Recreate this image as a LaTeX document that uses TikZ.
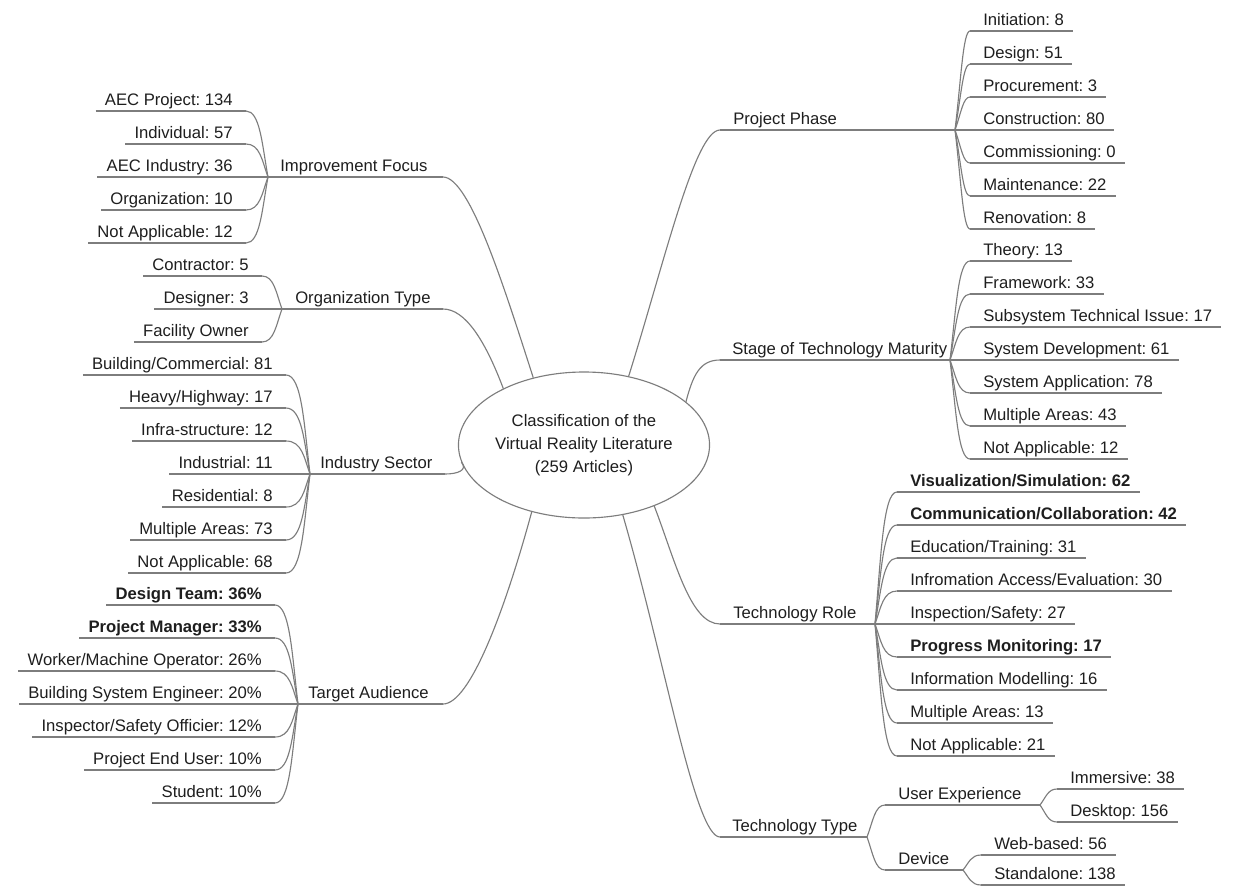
\documentclass[tikz,border=0pt]{standalone}
\usepackage{fontspec}
\setmainfont{Liberation Sans}
\usetikzlibrary{shapes.geometric,calc}
\definecolor{linegray}{RGB}{125,125,125}
\definecolor{txtcol}{RGB}{30,30,30}
\tikzset{
  ln/.style={draw=linegray, line width=0.85pt},
  txt/.style={font=\fontsize{12.5}{15}\selectfont, text=txtcol, inner sep=0pt, text depth=0pt},
  ritem/.style={txt, anchor=base west},
  litem/.style={txt, anchor=base east},
  bf/.style={font=\fontsize{12.5}{15}\selectfont\bfseries},
  centre/.style={ellipse, draw=linegray, line width=0.85pt, minimum width=222*0.75pt,
    minimum height=146*0.75pt, inner sep=0pt, align=center, text=txtcol,
    font=\fontsize{12.5}{17.25}\selectfont},
}
% right-side item: [style] name, text-x, underline-y, text
\newcommand\RItem[5][]{%
  \node[ritem,#1] (#2) at (#3,#4-6) {#5};
  \coordinate (#2-in) at ($(#2.base west)+(-13,6)$);
  \coordinate (#2-out) at ($(#2.base east)+(9,6)$);
  \draw[ln] (#2-in) -- (#2-out);}
% left-side item: [style] name, text-right-x, underline-y, text
\newcommand\LItem[5][]{%
  \node[litem,#1] (#2) at (#3,#4-6) {#5};
  \coordinate (#2-in) at ($(#2.base east)+(13,6)$);
  \coordinate (#2-out) at ($(#2.base west)+(-9,6)$);
  \draw[ln] (#2-out) -- (#2-in);}
\newcommand\Rcon[2]{\draw[ln] let \p1=(#1), \p2=(#2) in
  (\p1) .. controls ({\x1+4.5pt},{(\y1+\y2)/2}) and ({\x1+6pt},\y2) .. (\p2);}
\newcommand\Lcon[2]{\draw[ln] let \p1=(#1), \p2=(#2) in
  (\p1) .. controls ({\x1-4.5pt},{(\y1+\y2)/2}) and ({\x1-6pt},\y2) .. (\p2);}
\frenchspacing
\begin{document}
\frenchspacing
\begin{tikzpicture}[x=0.75pt,y=-0.75pt]
\useasboundingbox (0,0) rectangle (1254,886);

\node[centre] (c) at (584,445) {Classification of the\\Virtual Reality Literature\\(259 Articles)};

%%%%% RIGHT: Project Phase
\node[ritem] (pp) at (733,130-6) {Project Phase};
\coordinate (pp-in) at (720,130);
\coordinate (ppj) at (955,130);
\draw[ln] (pp-in) -- (ppj);
\RItem{pp1}{983}{31}{Initiation: 8}
\RItem{pp2}{983}{64}{Design: 51}
\RItem{pp3}{983}{97}{Procurement: 3}
\RItem{pp4}{983}{130}{Construction: 80}
\RItem{pp5}{983}{163}{Commissioning: 0}
\RItem{pp6}{983}{196}{Maintenance: 22}
\RItem{pp7}{983}{229}{Renovation: 8}
\foreach \i in {1,...,7}{\Rcon{ppj}{pp\i-in}}

%%%%% RIGHT: Stage of Technology Maturity
\node[ritem] (st) at (732,360-6) {Stage of Technology Maturity};
\coordinate (st-in) at (720,360);
\coordinate (stj) at (950,360);
\draw[ln] (st-in) -- (stj);
\RItem{st1}{983}{261}{Theory: 13}
\RItem{st2}{983}{294}{Framework: 33}
\RItem{st3}{983}{327}{Subsystem Technical Issue: 17}
\RItem{st4}{983}{360}{System Development: 61}
\RItem{st5}{983}{393}{System Application: 78}
\RItem{st6}{983}{426}{Multiple Areas: 43}
\RItem{st7}{983}{459}{Not Applicable: 12}
\foreach \i in {1,...,7}{\Rcon{stj}{st\i-in}}

%%%%% RIGHT: Technology Role
\node[ritem] (tr) at (733,624-6) {Technology Role};
\coordinate (tr-in) at (720,624);
\coordinate (trj) at (875,624);
\draw[ln] (tr-in) -- (trj);
\RItem[bf]{tr1}{910}{492}{Visualization/Simulation: 62}
\RItem[bf]{tr2}{910}{525}{Communication/Collaboration: 42}
\RItem{tr3}{910}{558}{Education/Training: 31}
\RItem{tr4}{910}{591}{Infromation Access/Evaluation: 30}
\RItem{tr5}{910}{624}{Inspection/Safety: 27}
\RItem[bf]{tr6}{910}{657}{Progress Monitoring: 17}
\RItem{tr7}{910}{690}{Information Modelling: 16}
\RItem{tr8}{910}{723}{Multiple Areas: 13}
\RItem{tr9}{910}{756}{Not Applicable: 21}
\foreach \i in {1,...,9}{\Rcon{trj}{tr\i-in}}

%%%%% RIGHT: Technology Type
\node[ritem] (tt) at (732,837-6) {Technology Type};
\coordinate (tt-in) at (720,837);
\coordinate (ttj) at (867,837);
\draw[ln] (tt-in) -- (ttj);
\node[ritem] (ue) at (898,805-6) {User Experience};
\coordinate (ue-in) at (885,805);
\coordinate (uej) at (1040,805);
\draw[ln] (ue-in) -- (uej);
\node[ritem] (dv) at (898,870-6) {Device};
\coordinate (dv-in) at (885,870);
\coordinate (dvj) at (963,870);
\draw[ln] (dv-in) -- (dvj);
\Rcon{ttj}{ue-in}
\Rcon{ttj}{dv-in}
\RItem{ue1}{1070}{789}{Immersive: 38}
\RItem{ue2}{1070}{822}{Desktop: 156}
\Rcon{uej}{ue1-in}
\Rcon{uej}{ue2-in}
\RItem{dv1}{994}{855}{Web-based: 56}
\RItem{dv2}{994}{885}{Standalone: 138}
\Rcon{dvj}{dv1-in}
\Rcon{dvj}{dv2-in}

%%%%% LEFT: Improvement Focus
\node[ritem] (if) at (280,177-6) {Improvement Focus};
\coordinate (ifj) at (268,177);
\coordinate (if-out) at (443,177);
\draw[ln] (ifj) -- (if-out);
\LItem{if1}{233}{111}{AEC Project: 134}
\LItem{if2}{233}{144}{Individual: 57}
\LItem{if3}{233}{177}{AEC Industry: 36}
\LItem{if4}{233}{210}{Organization: 10}
\LItem{if5}{233}{243}{Not Applicable: 12}
\foreach \i in {1,...,5}{\Lcon{ifj}{if\i-in}}

%%%%% LEFT: Organization Type
\node[ritem] (ot) at (295,309-6) {Organization Type};
\coordinate (otj) at (282,309);
\coordinate (ot-out) at (443,309);
\draw[ln] (otj) -- (ot-out);
\LItem{ot1}{249}{276}{Contractor: 5}
\LItem{ot2}{249}{309}{Designer: 3}
\LItem{ot3}{249}{342}{Facility Owner}
\foreach \i in {1,...,3}{\Lcon{otj}{ot\i-in}}

%%%%% LEFT: Industry Sector
\node[ritem] (is) at (320,474-6) {Industry Sector};
\coordinate (isj) at (310,474);
\coordinate (is-out) at (445,474);
\draw[ln] (isj) -- (is-out);
\LItem{is1}{273}{375}{Building/Commercial: 81}
\LItem{is2}{273}{408}{Heavy/Highway: 17}
\LItem{is3}{273}{441}{Infra-structure: 12}
\LItem{is4}{273}{474}{Industrial: 11}
\LItem{is5}{273}{507}{Residential: 8}
\LItem{is6}{273}{540}{Multiple Areas: 73}
\LItem{is7}{273}{573}{Not Applicable: 68}
\foreach \i in {1,...,7}{\Lcon{isj}{is\i-in}}

%%%%% LEFT: Target Audience
\node[ritem] (ta) at (308,704-6) {Target Audience};
\coordinate (taj) at (298,704);
\coordinate (ta-out) at (443,704);
\draw[ln] (taj) -- (ta-out);
\LItem[bf]{ta1}{262}{605}{Design Team: 36\%}
\LItem[bf]{ta2}{262}{638}{Project Manager: 33\%}
\LItem{ta3}{262}{671}{Worker/Machine Operator: 26\%}
\LItem{ta4}{262}{704}{Building System Engineer: 20\%}
\LItem{ta5}{262}{737}{Inspector/Safety Officier: 12\%}
\LItem{ta6}{262}{770}{Project End User: 10\%}
\LItem{ta7}{262}{803}{Student: 10\%}
\foreach \i in {1,...,7}{\Lcon{taj}{ta\i-in}}

%%%%% central connectors
\draw[ln] (c.127) .. controls (505,290) and (470,177) .. (if-out);
\draw[ln] (c.145.5) .. controls (485,340) and (465,309) .. (ot-out);
\draw[ln] (c.188) .. controls (468,470) and (458,474) .. (is-out);
\draw[ln] (c.232) .. controls (505,610) and (470,704) .. (ta-out);
\draw[ln] (c.57) .. controls (665,260) and (695,130) .. (pp-in);
\draw[ln] (c.23) .. controls (693,375) and (700,360) .. (st-in);
\draw[ln] (c.-41) .. controls (675,560) and (690,624) .. (tr-in);
\draw[ln] (c.-61.5) .. controls (665,660) and (695,837) .. (tt-in);
\end{tikzpicture}
\end{document}
